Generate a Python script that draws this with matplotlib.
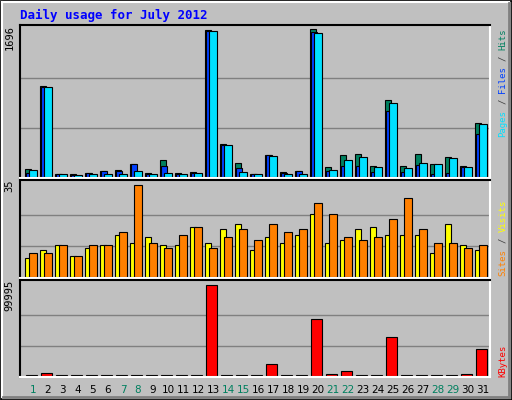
import matplotlib.pyplot as plt
from matplotlib.patches import Rectangle

W, H = 512, 400

days = list(range(1, 32))
hits = [84, 1045, 31, 31, 42, 61, 73, 142, 42, 188, 42, 50, 1690, 372, 154, 31,
        250, 50, 61, 1696, 108, 246, 257, 119, 883, 119, 257, 142, 223, 119, 614]
files = [46, 1037, 31, 23, 42, 61, 61, 142, 31, 119, 31, 42, 1682, 365, 96, 31,
         246, 42, 61, 1670, 65, 123, 119, 54, 753, 54, 134, 31, 46, 108, 488]
pages = [73, 1030, 31, 12, 31, 31, 31, 61, 31, 42, 31, 42, 1674, 361, 50, 31,
         238, 31, 31, 1651, 73, 188, 223, 108, 845, 96, 154, 142, 211, 108, 603]
sites = [7, 10, 12, 8, 11, 12, 16, 13, 15, 12, 12, 19, 13, 18, 20, 10,
         15, 13, 16, 24, 13, 14, 18, 19, 16, 16, 16, 9, 20, 12, 10]
visits = [9, 9, 12, 8, 12, 12, 17, 35, 13, 11, 16, 19, 11, 15, 18, 14,
          20, 17, 18, 28, 24, 15, 14, 15, 22, 30, 18, 13, 13, 11, 12]
kbytes = [800, 3650, 800, 800, 800, 800, 800, 800, 800, 800, 800, 800, 99995, 800, 800, 800,
          13500, 800, 800, 62800, 2550, 5840, 800, 800, 43070, 800, 800, 800, 800, 2550, 29200]
weekends = {1, 7, 8, 14, 15, 21, 22, 28, 29}

BG = "#C0C0C0"
GREEN = "#00805F"
fig = plt.figure(figsize=(W / 100, H / 100), dpi=100, facecolor=BG)

# bevelled frame, drawn in pixel coordinates
bg = fig.add_axes([0, 0, 1, 1])
bg.set_xlim(0, W)
bg.set_ylim(H, 0)
bg.axis("off")
bg.add_patch(Rectangle((0.5, 0.5), W - 1, H - 1, fill=False, ec="black", lw=1.2))
bg.plot([2, W - 3], [2, 2], color="white", lw=1.5)
bg.plot([2, 2], [2, H - 3], color="white", lw=1.5)
bg.plot([3, W - 3], [H - 3, H - 3], color="#808080", lw=2)
bg.plot([W - 3, W - 3], [3, H - 3], color="#808080", lw=2)
bg.text(20, 15, "Daily usage for July 2012", color="#0000FF", fontsize=9, fontweight="bold",
        family="DejaVu Sans Mono", va="center", ha="left")

XL = (1 - 11 / 15, 1 - 11 / 15 + 470 / 15)


def panel(y0, y1, vmax):
    ax = fig.add_axes([20 / W, 1 - y1 / H, 470 / W, (y1 - y0) / H])
    ax.set_facecolor(BG)
    ax.set_xlim(*XL)
    ax.set_ylim(-vmax * 0.01, vmax * (y1 - y0) / (y1 - y0 - 5))
    for y in (vmax / 3, vmax * 2 / 3):
        ax.axhline(y, color="#808080", lw=1, zorder=0)
    ax.set_xticks([])
    ax.set_yticks([])
    for s in ("top", "left"):
        ax.spines[s].set_color("black")
    for s in ("bottom", "right"):
        ax.spines[s].set_color("white")
    for s in ax.spines.values():
        s.set_linewidth(1.5)
    return ax


kw = dict(align="edge", edgecolor="black", linewidth=0.8)

ax1 = panel(24.5, 178, 1696)
ax1.bar([d - 0.4 for d in days], hits, width=0.4, color=GREEN, **kw)
ax1.bar([d - 0.31 for d in days], files, width=0.4, color="#0040FF", **kw)
ax1.bar([d - 0.13 for d in days], pages, width=0.5, color="#00E0FF", **kw)

ax2 = panel(180, 277.5, 35)
ax2.bar([d - 0.4 for d in days], sites, width=0.4, color="#FFFF00", **kw)
ax2.bar([d - 0.12 for d in days], visits, width=0.5, color="#FF8000", **kw)

ax3 = panel(280, 377, 99995)
ax3.bar([d - 0.33 for d in days], kbytes, width=0.7, color="#FF0000", **kw)
for d in days:
    ax3.text(d + 0.13, -0.08, str(d), transform=ax3.get_xaxis_transform(), ha="center", va="top",
             fontsize=7.5, color=GREEN if d in weekends else "black")

# left max labels
for ax, txt in ((ax1, "1696"), (ax2, "35"), (ax3, "99995")):
    ax.text(-0.012, 1.0, txt, transform=ax.transAxes, rotation=90, ha="right", va="top",
            fontsize=7.5, family="DejaVu Sans Mono")

CH = 5.45  # px per character at 6.5pt mono


def side_label(parts, bottom):
    y = bottom
    for txt, col in parts:
        bg.text(503, y, txt, rotation=90, ha="center", va="bottom", fontsize=6.5,
                color=col, family="DejaVu Sans Mono")
        y -= (len(txt) + 1) * CH


side_label([("Pages", "#00E0FF"), ("/", "#404040"), ("Files", "#0040FF"),
            ("/", "#404040"), ("Hits", GREEN)], 137)
side_label([("Sites", "#FF8000"), ("/", "#404040"), ("Visits", "#FFFF00")], 276)
side_label([("KBytes", "#FF0000")], 377)

fig.savefig("out.png", dpi=100, facecolor=BG)
